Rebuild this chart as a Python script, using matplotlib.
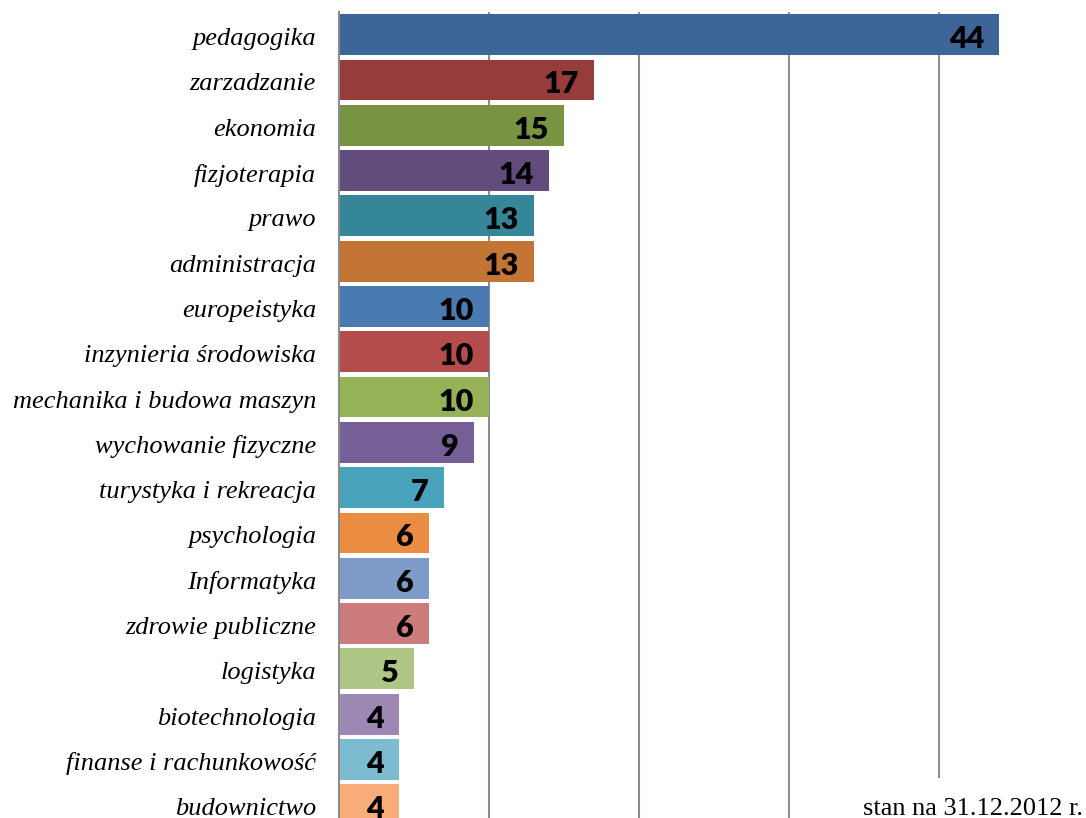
#!/usr/bin/env python3
import matplotlib
matplotlib.use('Agg')
import matplotlib.pyplot as plt
from matplotlib.patches import Rectangle
from matplotlib.transforms import ScaledTranslation

# kierunki i liczba osob (stan na 31.12.2012)
categories = ['pedagogika', 'zarzadzanie', 'ekonomia', 'fizjoterapia', 'prawo',
              'administracja', 'europeistyka', 'inzynieria środowiska',
              'mechanika i budowa maszyn', 'wychowanie fizyczne',
              'turystyka i rekreacja', 'psychologia', 'Informatyka',
              'zdrowie publiczne', 'logistyka', 'biotechnologia',
              'finanse i rachunkowość', 'budownictwo']
values = [44, 17, 15, 14, 13, 13, 10, 10, 10, 9, 7, 6, 6, 6, 5, 4, 4, 4]
colors = ['#3D6597', '#963D3C', '#789442', '#624C7C', '#36869A', '#C37535',
          '#4A7AB2', '#B34C4A', '#95B257', '#765E96', '#47A2BA', '#EA8D42',
          '#7E9BC8', '#CC7D7B', '#AFC687', '#9D88B4', '#7CBCD1', '#F7AC7A']
note = 'stan na 31.12.2012 r.'

fig = plt.figure(figsize=(10.86, 8.18), dpi=100)
ax = fig.add_axes([339 / 1086, 1 - 827.4 / 818, 750 / 1086, 815.4 / 818])

y = list(range(len(categories)))
ax.barh(y, values, height=0.9, color=colors, zorder=2)
ax.set_xlim(0, 50)
ax.set_ylim(len(categories) - 0.5, -0.5)

# etykiety wartosci na koncu slupka
for yi, v in zip(y, values):
    ax.text(v - 1.0, yi + 0.1, str(v), ha='right', va='center', fontsize=22,
            family='Lato', fontweight='heavy', color='black', zorder=3)

ax.set_yticks(y)
ax.set_yticklabels(categories, family='Liberation Serif', style='italic', fontsize=19)
ax.tick_params(axis='y', length=0, pad=16.5)
shift = ScaledTranslation(0, -2 / 100, fig.dpi_scale_trans)
for lab in ax.get_yticklabels():
    lab.set_transform(lab.get_transform() + shift)
ax.set_xticks([10, 20, 30, 40])
ax.tick_params(axis='x', length=0, labelbottom=False)
ax.grid(axis='x', color='#8c8c8c', linewidth=1.5, zorder=1)
for s in ['top', 'right', 'bottom']:
    ax.spines[s].set_visible(False)
ax.spines['left'].set_color('#8c8c8c')
ax.spines['left'].set_linewidth(1.5)

# biale pole pod podpisem (zaslania koniec linii siatki)
fig.patches.append(Rectangle((800 / 1086, 0), 286 / 1086, 40 / 818,
                             transform=fig.transFigure, facecolor='white',
                             edgecolor='none', zorder=4))
fig.text(1083 / 1086, -2 / 818, note, ha='right', va='bottom', fontsize=19,
         family='Liberation Serif', zorder=5)

fig.savefig('out.png', dpi=100)
